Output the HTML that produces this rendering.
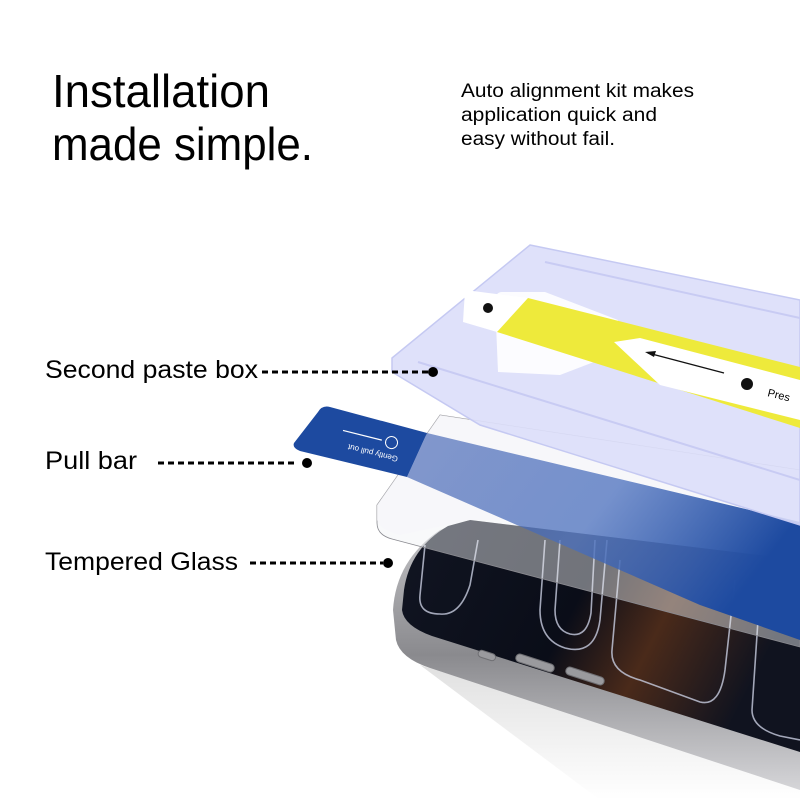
<!DOCTYPE html>
<html><head><meta charset="utf-8"><style>
html,body{margin:0;padding:0;background:#fff;width:800px;height:800px;overflow:hidden}
svg{display:block;overflow:hidden}
text{font-family:"Liberation Sans",sans-serif;fill:#000}
</style></head><body>
<svg width="800" height="800" viewBox="0 0 800 800" xmlns="http://www.w3.org/2000/svg">
<defs>
<linearGradient id="scr" x1="0" y1="0" x2="1" y2="0.3">
<stop offset="0" stop-color="#111522"/><stop offset="0.5" stop-color="#0a0d18"/><stop offset="0.72" stop-color="#4a2a1a"/><stop offset="1" stop-color="#10131f"/>
</linearGradient>
<linearGradient id="frame" x1="0" y1="0" x2="0" y2="1">
<stop offset="0" stop-color="#c5c5c8"/><stop offset="0.5" stop-color="#8a8a8e"/><stop offset="1" stop-color="#d5d5d8"/>
</linearGradient>
<linearGradient id="band" x1="0" y1="0" x2="1" y2="0.4">
<stop offset="0" stop-color="#3558ad" stop-opacity="0.6"/><stop offset="0.55" stop-color="#4a6fbd" stop-opacity="0.75"/><stop offset="1" stop-color="#1d4aa0"/>
</linearGradient>
<linearGradient id="shd" x1="0" y1="0" x2="0" y2="1">
<stop offset="0" stop-color="#000" stop-opacity="0.12"/><stop offset="1" stop-color="#000" stop-opacity="0"/>
</linearGradient>
<clipPath id="c"><rect width="800" height="800"/></clipPath>
</defs>
<g clip-path="url(#c)">
<!-- shadow -->
<path d="M420,665 L800,785 L800,800 L600,800 Z" fill="url(#shd)"/>
<!-- phone frame -->
<path d="M470,520 L800,560 L800,790 L430,668 Q400,658 396,640 L393,610 Q396,560 440,530 Z" fill="url(#frame)"/>
<!-- phone screen -->
<path d="M470,520 L800,560 L800,752 L432,636 Q404,626 402,610 L404,590 Q410,548 448,526 Z" fill="url(#scr)"/>
<g fill="none" stroke="#c8cde0" stroke-width="1.6" opacity="0.8">
<path d="M545,540 L540,610 Q540,640 565,648 Q595,656 600,620 L607,540"/>
<path d="M560,540 L555,610 Q555,630 570,634 Q587,638 591,613 L595,540"/>
<path d="M425,545 L420,595 Q418,614 440,614 Q460,616 470,585 L478,540"/>
<path d="M620,560 L612,650 Q610,672 640,680 L700,702 Q720,707 725,670 L735,580"/>
<path d="M760,590 L752,710 Q752,728 780,736 L800,740"/>
</g>
<!-- side buttons -->
<g fill="#9a9a9e" stroke="#6f6f73" stroke-width="1">
<rect x="478" y="652" width="18" height="7" rx="3.5" transform="rotate(18 487 655)"/>
<rect x="515" y="659" width="40" height="8" rx="4" transform="rotate(18 535 663)"/>
<rect x="565" y="672" width="40" height="8" rx="4" transform="rotate(18 585 676)"/>
</g>
<!-- tempered glass -->
<path d="M440,415 L800,470 L800,647 L392,539 Q377,535 377,523 L377,505 Z" fill="#f0f1f4" fill-opacity="0.45" stroke="#8a8a90" stroke-width="0.8"/>
<path d="M440,415 L800,470 L800,520 L470,520 L400,535 Q380,530 377,520 L377,505 Z" fill="#f7f7f9" fill-opacity="0.7"/>
<!-- blue band -->
<path d="M427,433 L800,522 L800,640 L700,605 L407,477 Z" fill="url(#band)"/>
<!-- pull bar tab -->
<path d="M330,407 L427,433 L407,477 L300,451 Q292,448 294,443 L318,412 Q322,405 330,407 Z" fill="#1d4aa0"/>
<g transform="rotate(14 360 445) translate(360 445) rotate(180)">
<text x="-40" y="-2" font-size="8" style="fill:#fff">Gently pull out</text>
<circle cx="-30" cy="10" r="6" fill="none" stroke="#fff"/>
<line x1="-20" y1="10" x2="20" y2="10" stroke="#fff" stroke-width="1.2"/>
</g>
<!-- paste box -->
<path d="M530,245 L800,300 L800,525 L480,425 L392,372 L392,358 Z" fill="#dcdefa" fill-opacity="0.9" stroke="#c5c9f2" stroke-width="1.5"/>
<path d="M545,262 L800,318 M418,362 L800,480" stroke="#c8cbf3" stroke-width="2" fill="none"/>
<!-- cutout -->
<path d="M502,292 Q496,292 495,300 L498,372 L560,375 L620,352 L618,320 L545,292 Z" fill="#fff" fill-opacity="0.9"/>
<!-- label white -->
<path d="M465,290 L528,298 L497,332 L463,322 Z" fill="#fff"/>
<circle cx="488" cy="308" r="5" fill="#111"/>
<!-- yellow band -->
<path d="M528,298 L800,367 L800,428 L497,332 Z" fill="#eeea3b"/>
<path d="M614,342 L640,338 L800,380 L800,420 L660,385 Z" fill="#fff"/>
<line x1="648" y1="353" x2="724" y2="373" stroke="#111" stroke-width="1.3"/>
<path d="M645,352 L656,351 L654,357 Z" fill="#111"/>
<circle cx="747" cy="384" r="6" fill="#111"/>
<text x="767" y="396" font-size="11" transform="rotate(14 767 396)">Pres</text>

<!-- titles -->
<text x="52" y="107" font-size="46" textLength="218" lengthAdjust="spacingAndGlyphs">Installation</text>
<text x="52" y="160" font-size="46" textLength="261" lengthAdjust="spacingAndGlyphs">made simple.</text>
<text x="461" y="97" font-size="19" textLength="233" lengthAdjust="spacingAndGlyphs">Auto alignment kit makes</text>
<text x="461" y="121" font-size="19" textLength="196" lengthAdjust="spacingAndGlyphs">application quick and</text>
<text x="461" y="145" font-size="19" textLength="154" lengthAdjust="spacingAndGlyphs">easy without fail.</text>

<!-- labels -->
<text x="45" y="378" font-size="25" textLength="213" lengthAdjust="spacingAndGlyphs">Second paste box</text>
<text x="45" y="469" font-size="25" textLength="92" lengthAdjust="spacingAndGlyphs">Pull bar</text>
<text x="45" y="570" font-size="25" textLength="193" lengthAdjust="spacingAndGlyphs">Tempered Glass</text>
<g stroke="#000" stroke-width="3" stroke-dasharray="6,4">
<line x1="262" y1="372" x2="428" y2="372"/>
<line x1="158" y1="463" x2="298" y2="463"/>
<line x1="250" y1="563" x2="383" y2="563"/>
</g>
<circle cx="433" cy="372" r="5" fill="#000"/>
<circle cx="307" cy="463" r="5" fill="#000"/>
<circle cx="388" cy="563" r="5" fill="#000"/>
</g>
</svg>
</body></html>
